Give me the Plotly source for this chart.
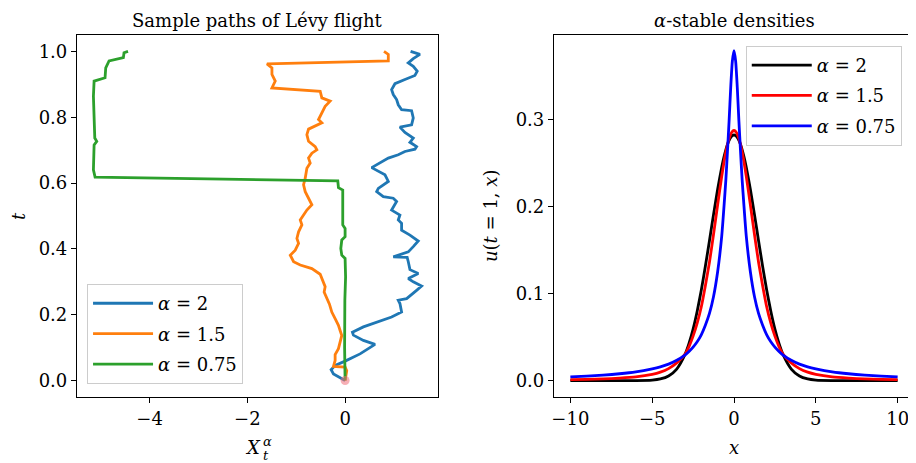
import plotly.graph_objects as go

# ---------------- data: left panel (sample paths) ----------------
t_a2 = [0.000, 0.020, 0.033, 0.046, 0.059, 0.081, 0.110, 0.122, 0.138, 0.147, 0.163, 0.181, 0.193, 0.208,
        0.234, 0.244, 0.249, 0.274, 0.287, 0.300, 0.310, 0.325, 0.337, 0.361, 0.374, 0.376, 0.391, 0.407,
        0.424, 0.442, 0.457, 0.478, 0.488, 0.503, 0.518, 0.544, 0.554, 0.559, 0.574, 0.584, 0.605, 0.625,
        0.637, 0.647, 0.676, 0.686, 0.696, 0.703, 0.711, 0.724, 0.737, 0.754, 0.770, 0.777, 0.798, 0.820,
        0.823, 0.838, 0.854, 0.869, 0.884, 0.902, 0.915, 0.927, 0.940, 0.955, 0.965, 0.978, 0.991, 1.000]
x_a2 = [0.000, -0.238, -0.286, -0.204, 0.000, 0.306, 0.612, 0.374, 0.170, 0.150, 0.374, 0.714, 0.952, 1.156,
        1.122, 1.088, 1.259, 1.463, 1.565, 1.395, 1.293, 1.497, 1.327, 1.293, 1.270, 0.986, 1.293, 1.395,
        1.497, 1.327, 1.156, 1.156, 1.088, 1.122, 0.952, 1.054, 0.986, 0.782, 0.646, 0.680, 0.884, 0.816,
        0.680, 0.544, 0.884, 1.088, 1.224, 1.429, 1.463, 1.327, 1.395, 1.224, 1.122, 1.361, 1.395, 1.361,
        1.156, 1.088, 1.054, 0.986, 0.952, 1.020, 1.224, 1.429, 1.476, 1.395, 1.293, 1.395, 1.531, 1.340]

t_a15 = [0.000, 0.030, 0.041, 0.043, 0.061, 0.079, 0.097, 0.117, 0.137, 0.152, 0.168, 0.188, 0.208, 0.232,
         0.249, 0.269, 0.285, 0.300, 0.323, 0.340, 0.351, 0.361, 0.381, 0.396, 0.417, 0.432, 0.452, 0.473,
         0.488, 0.503, 0.518, 0.534, 0.554, 0.574, 0.595, 0.615, 0.645, 0.661, 0.676, 0.691, 0.701, 0.711,
         0.727, 0.747, 0.764, 0.772, 0.783, 0.793, 0.813, 0.833, 0.849, 0.859, 0.879, 0.889, 0.910, 0.930,
         0.950, 0.962, 0.971, 0.991, 1.000]
x_a15 = [0.000, 0.034, 0.000, -0.238, -0.204, -0.204, -0.136, -0.102, -0.068, -0.102, -0.136, -0.204, -0.272,
         -0.320, -0.374, -0.429, -0.408, -0.442, -0.510, -0.680, -0.918, -1.054, -1.122, -1.020, -0.952, -0.986,
         -0.952, -0.884, -0.918, -0.850, -0.782, -0.680, -0.748, -0.816, -0.850, -0.816, -0.782, -0.714, -0.748,
         -0.680, -0.578, -0.612, -0.748, -0.782, -0.748, -0.646, -0.476, -0.544, -0.476, -0.408, -0.306, -0.476,
         -0.510, -1.497, -1.429, -1.497, -1.497, -1.599, 0.884, 0.884, 0.796]

t_a075 = [0.000, 0.100, 0.244, 0.315, 0.371, 0.381, 0.401, 0.427, 0.437, 0.462, 0.473, 0.528, 0.579, 0.586,
          0.607, 0.618, 0.640, 0.716, 0.727, 0.737, 0.833, 0.864, 0.910, 0.920, 0.950, 0.971, 0.981, 0.996, 1.000]
x_a075 = [0.000, -0.010, -0.005, 0.010, 0.000, -0.068, -0.088, -0.068, 0.000, 0.000, -0.048, -0.048, -0.048,
          -0.136, -0.150, -5.116, -5.150, -5.136, -5.082, -5.122, -5.136, -5.150, -5.136, -4.912, -4.898,
          -4.830, -4.537, -4.524, -4.442]

path_labels = ["<i>α</i> = 2", "<i>α</i> = 1.5", "<i>α</i> = 0.75"]

# ---------------- data: right panel (densities) ----------------
x_dens = [-10, -9, -8, -7, -6, -5, -4.5, -4, -3.5, -3, -2.75, -2.5, -2.25, -2, -1.75, -1.5, -1.25, -1, -0.75,
          -0.6, -0.5, -0.4, -0.3, -0.2, -0.1, 0, 0.1, 0.2, 0.3, 0.4, 0.5, 0.6, 0.75, 1, 1.25, 1.5, 1.75, 2,
          2.25, 2.5, 2.75, 3, 3.5, 4, 4.5, 5, 6, 7, 8, 9, 10]
u_a2 = [0.0, 0.0, 0.0, 0.0, 0.0, 0.0005, 0.0018, 0.0052, 0.0132, 0.0297, 0.0426, 0.0591, 0.0796, 0.1038,
        0.1312, 0.1607, 0.1909, 0.2197, 0.2451, 0.2578, 0.2650, 0.2711, 0.2758, 0.2793, 0.2814, 0.2821,
        0.2814, 0.2793, 0.2758, 0.2711, 0.2650, 0.2578, 0.2451, 0.2197, 0.1909, 0.1607, 0.1312, 0.1038,
        0.0796, 0.0591, 0.0426, 0.0297, 0.0132, 0.0052, 0.0018, 0.0005, 0.0, 0.0, 0.0, 0.0, 0.0]
u_a15 = [0.0010, 0.0014, 0.0019, 0.0028, 0.0042, 0.0071, 0.0096, 0.0137, 0.0203, 0.0300, 0.0390, 0.0510,
         0.0660, 0.0845, 0.1090, 0.1360, 0.1681, 0.2020, 0.2347, 0.2523, 0.2622, 0.2709, 0.2779, 0.2831,
         0.2862, 0.2873, 0.2862, 0.2831, 0.2779, 0.2709, 0.2622, 0.2523, 0.2347, 0.2020, 0.1681, 0.1360,
         0.1090, 0.0845, 0.0660, 0.0510, 0.0390, 0.0300, 0.0203, 0.0137, 0.0096, 0.0071, 0.0042, 0.0028,
         0.0019, 0.0014, 0.0010]
u_a075 = [0.0043, 0.0051, 0.0062, 0.0078, 0.0100, 0.0135, 0.0158, 0.0189, 0.0233, 0.0293, 0.0334, 0.0384,
          0.0446, 0.0526, 0.0636, 0.0771, 0.0966, 0.125, 0.166, 0.203, 0.230, 0.263, 0.298, 0.337, 0.367,
          0.379, 0.367, 0.337, 0.298, 0.263, 0.230, 0.203, 0.166, 0.125, 0.0966, 0.0771, 0.0636, 0.0526,
          0.0446, 0.0384, 0.0334, 0.0293, 0.0233, 0.0189, 0.0158, 0.0135, 0.0100, 0.0078, 0.0062, 0.0051,
          0.0043]

dens_labels = ["<i>α</i> = 2", "<i>α</i> = 1.5", "<i>α</i> = 0.75"]

x_ticks_left = [-4, -2, 0]
y_ticks_left = [0.0, 0.2, 0.4, 0.6, 0.8, 1.0]
x_ticks_right = [-10, -5, 0, 5, 10]
y_ticks_right = [0.0, 0.1, 0.2, 0.3]

FONT = "DejaVu Serif"
FS = 18

fig = go.Figure()

path_colors = ["#1f77b4", "#ff7f0e", "#2ca02c"]
for i, (xs, ts) in enumerate([(x_a2, t_a2), (x_a15, t_a15), (x_a075, t_a075)]):
    fig.add_trace(go.Scatter(x=xs, y=ts, mode="lines", name=path_labels[i],
                             line=dict(color=path_colors[i], width=2.8),
                             xaxis="x", yaxis="y", legend="legend", legendgroup="p%d" % i))
fig.add_trace(go.Scatter(x=[0], y=[0], mode="markers", showlegend=False,
                         marker=dict(color="rgba(240,110,120,0.55)", size=9, line=dict(width=0)),
                         xaxis="x", yaxis="y"))

dens_colors = ["#000000", "#ff0000", "#0000ff"]
for i, us in enumerate([u_a2, u_a15, u_a075]):
    fig.add_trace(go.Scatter(x=x_dens, y=us, mode="lines", name=dens_labels[i],
                             line=dict(color=dens_colors[i], width=2.8, shape="spline", smoothing=0.6),
                             xaxis="x2", yaxis="y2", legend="legend2", legendgroup="d%d" % i))

axis_common = dict(showgrid=False, zeroline=False, showline=True, linecolor="black", linewidth=1.2,
                   mirror=True, ticks="outside", ticklen=5, tickwidth=1.2, tickcolor="black",
                   tickfont=dict(family=FONT, size=FS, color="black"))

# page body has an 8px margin: the figure is laid out so the axes land where the reference has them
left_dom = [0.0, 361 / 837]
right_dom = [477 / 837, 1.0]

legend_common = dict(bgcolor="rgba(255,255,255,0.85)", bordercolor="#cccccc", borderwidth=1,
                     font=dict(family=FONT, size=FS, color="black"), xanchor="left", yanchor="top",
                     tracegroupgap=4, itemwidth=60)

fig.update_layout(
    width=908, height=455,
    margin=dict(l=69, r=2, t=27, b=66),
    paper_bgcolor="white", plot_bgcolor="white",
    font=dict(family=FONT, size=FS, color="black"),
    xaxis=dict(domain=left_dom, range=[-5.486, 1.901], tickvals=x_ticks_left, anchor="y", **axis_common),
    yaxis=dict(domain=[0, 1], range=[-0.05, 1.05], tickvals=y_ticks_left, tickformat=".1f", anchor="x",
               **axis_common),
    xaxis2=dict(domain=right_dom, range=[-11, 11], tickvals=x_ticks_right, anchor="y2", **axis_common),
    yaxis2=dict(domain=[0, 1], range=[-0.0189, 0.397], tickvals=y_ticks_right, tickformat=".1f",
                anchor="x2", **axis_common),
    legend=dict(x=0.012, y=0.312, **legend_common),
    legend2=dict(x=0.799, y=0.97, **legend_common),
    showlegend=True,
)

ann = []
# titles
ann.append(dict(text="Sample paths of Lévy flight", xref="x domain", yref="paper", x=0.5, y=1,
                yshift=15, showarrow=False, xanchor="center", yanchor="middle",
                font=dict(family=FONT, size=FS)))
ann.append(dict(text="<i>α</i>-stable densities", xref="x2 domain", yref="paper", x=0.5, y=1,
                yshift=15, showarrow=False, xanchor="center", yanchor="middle",
                font=dict(family=FONT, size=FS)))
# left x label X_t^alpha
ann.append(dict(text="<i>X</i>", xref="x domain", yref="paper", x=0.5, y=0, xshift=-5, yshift=-50,
                showarrow=False, xanchor="center", yanchor="middle", font=dict(family=FONT, size=FS)))
ann.append(dict(text="<i>α</i>", xref="x domain", yref="paper", x=0.5, y=0, xshift=10, yshift=-44,
                showarrow=False, xanchor="center", yanchor="middle", font=dict(family=FONT, size=13)))
ann.append(dict(text="<i>t</i>", xref="x domain", yref="paper", x=0.5, y=0, xshift=8, yshift=-58,
                showarrow=False, xanchor="center", yanchor="middle", font=dict(family=FONT, size=13)))
# left y label
ann.append(dict(text="<i>t</i>", xref="x domain", yref="y domain", x=0, y=0.5, xshift=-59,
                showarrow=False, xanchor="center", yanchor="middle", textangle=-90,
                font=dict(family=FONT, size=FS)))
# right labels
ann.append(dict(text="<i>x</i>", xref="x2 domain", yref="paper", x=0.5, y=0, yshift=-50,
                showarrow=False, xanchor="center", yanchor="middle", font=dict(family=FONT, size=FS)))
ann.append(dict(text="<i>u</i>(<i>t</i> = 1, <i>x</i>)", xref="x2 domain", yref="y2 domain", x=0, y=0.5,
                xshift=-64, showarrow=False, xanchor="center", yanchor="middle", textangle=-90,
                font=dict(family=FONT, size=FS)))
fig.update_layout(annotations=ann)

fig.write_html("out.html")
